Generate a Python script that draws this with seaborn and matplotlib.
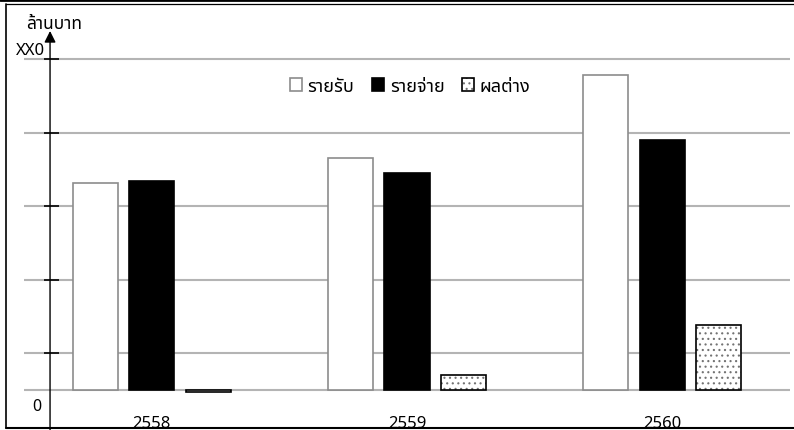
import matplotlib
matplotlib.use("Agg")
import matplotlib.pyplot as plt
import pandas as pd
import seaborn as sns
from matplotlib import font_manager
from matplotlib.ft2font import FT2Font
from matplotlib.lines import Line2D

# ข้อมูล (หน่วย: ล้านบาท, อ่านค่าจากภาพ)
years = ["2558", "2559", "2560"]
series = ["รายรับ", "รายจ่าย", "ผลต่าง"]
income = [282, 315, 428]
expense = [284, 295, 340]
balance = [-3, 20, 88]
grid_values = [50, 150, 250, 350, 450]
top_label = "XX0"
zero_label = "0"
unit_label = "ล้านบาท"


def thai_font():
    """หาฟอนต์ที่มีอักษรไทย"""
    found = []
    for f in font_manager.fontManager.ttflist:
        try:
            if 0x0E23 in FT2Font(f.fname).get_charmap():
                found.append(f.name)
        except Exception:
            pass
    for pref in ["Tahoma", "Noto Sans Thai", "Loma", "Garuda", "Sarabun"]:
        if pref in found:
            return pref
    return found[0] if found else "DejaVu Sans"


sns.set_style("white")
thai = thai_font()
plt.rcParams["font.family"] = [thai, "DejaVu Sans"]
plt.rcParams["text.color"] = "black"
plt.rcParams["hatch.linewidth"] = 0.8

df = pd.DataFrame({
    "ปี": years * 3,
    "รายการ": [s for s in series for _ in years],
    "ค่า": income + expense + balance,
})

fig = plt.figure(figsize=(7.94, 4.31), dpi=100)
ax = fig.add_axes([24 / 794, 0, 766 / 794, 1])

sns.barplot(
    data=df, x="ปี", y="ค่า", hue="รายการ",
    order=years, hue_order=series,
    palette=["white", "black", "white"], saturation=1,
    width=0.663, gap=0.2, errorbar=None, legend=False, ax=ax,
)

edge = ["#8c8c8c", "black", "black"]
for cont, ec in zip(ax.containers, edge):
    for bar in cont:
        bar.set_edgecolor(ec)
        bar.set_linewidth(1.2)
for bar in ax.containers[2]:
    bar.set_hatch("...")
    bar._hatch_color = (0.45, 0.45, 0.45, 1.0)

# 1 หน่วย = 0.7356 px, ศูนย์อยู่ที่ y=391 px
ax.set_ylim(-54.4, 531.5)
ax.set_xlim(-0.5, 2.5)
ax.set_yticks([0] + grid_values)
ax.yaxis.grid(True, color="#b4b4b4", linewidth=1.5)
ax.xaxis.grid(False)
ax.set_axisbelow(True)
ax.tick_params(length=0, labelleft=False, labelbottom=False)
ax.set_xlabel("")
ax.set_ylabel("")
for s in ax.spines.values():
    s.set_visible(False)

# แกนตั้งพร้อมหัวลูกศร
ax_x = -0.398
ax.annotate("", xy=(ax_x, 488), xytext=(ax_x, -54.4),
            arrowprops=dict(arrowstyle="-|>", color="black", lw=1.0,
                            mutation_scale=17, shrinkA=0, shrinkB=0),
            annotation_clip=False)
ax.hlines(grid_values, -0.422, -0.363, color="black", lw=1.2)

ax.text(-0.416, 462, top_label, ha="right", va="center", fontsize=12)
ax.text(-0.449, -22, zero_label, ha="center", va="center", fontsize=11.5)
ax.text(-0.490, 499, unit_label, ha="left", va="center", fontsize=12.5)
for i, y in enumerate(years):
    ax.text(i, -45, y, ha="center", va="center", fontsize=12)

ax.legend(ax.containers, series, ncol=3, loc="center",
          bbox_to_anchor=(0.504, 0.798), frameon=False, fontsize=13,
          handlelength=0.7, handleheight=0.7, handletextpad=0.3,
          columnspacing=0.95, labelcolor="black")

# กรอบ
def fline(x0, y0, x1, y1, lw):
    fig.add_artist(Line2D([x0 / 794, x1 / 794], [1 - y0 / 431, 1 - y1 / 431],
                          transform=fig.transFigure, color="black", lw=lw))


fline(0, 1.3, 794, 1.3, 2.0)
fline(6, 5, 794, 5, 0.9)
fline(6.3, 5, 6.3, 429.3, 1.2)
fline(6, 429.3, 794, 429.3, 1.5)

fig.savefig("out.png", dpi=100)
plt.close()
